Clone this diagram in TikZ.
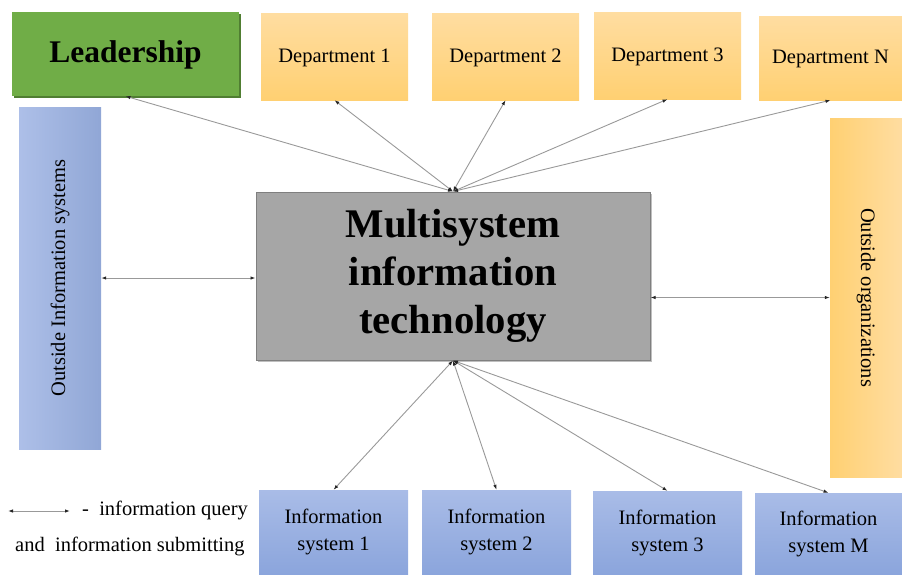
\documentclass[tikz,border=0pt]{standalone}
\usepackage{fontspec}
\setmainfont{Liberation Serif}
\usetikzlibrary{arrows.meta,shadows}
\definecolor{lgreen}{HTML}{70AD47}
\definecolor{dgreen}{HTML}{507E32}
\definecolor{orTop}{HTML}{FFDDA1}
\definecolor{orBot}{HTML}{FFD072}
\definecolor{blTop}{HTML}{A9BCE7}
\definecolor{blBot}{HTML}{8BA5DC}
\definecolor{cgray}{HTML}{A6A6A6}
\definecolor{cedge}{HTML}{7F7F7F}
\definecolor{lineg}{HTML}{999999}
\tikzset{
  txt/.style={font=\fontsize{20.5}{27}\selectfont, align=center, text=black},
  deptbox/.style={txt, inner sep=0pt, top color=orTop, bottom color=orBot, draw=none, text depth=2pt},
  isbox/.style={txt, inner sep=0pt, top color=blTop, bottom color=blBot, draw=none},
  conn/.style={draw=lineg, line width=0.9pt, {Latex[length=5pt,width=3.5pt,color=black!85]}-{Latex[length=5pt,width=3.5pt,color=black!85]}}
}
\begin{document}
\begin{tikzpicture}[x=1pt,y=-1pt]
\useasboundingbox (0,0) rectangle (902,574);
% Leadership
\node[txt, inner sep=0pt, fill=lgreen, minimum width=227pt, minimum height=84pt,
  drop shadow={shadow xshift=1.5pt, shadow yshift=-2pt, fill=dgreen, opacity=1},
  font=\fontsize{31.5}{36}\selectfont\bfseries, text depth=4pt] (lead) at (125.5,54) {Leadership};
% Departments
\node[deptbox, minimum width=147pt, minimum height=87pt] (d1) at (334.5,56.5) {Department 1};
\node[deptbox, minimum width=147pt, minimum height=87pt] (d2) at (505.5,56.5) {Department 2};
\node[deptbox, minimum width=147pt, minimum height=87pt] (d3) at (667.5,55.5) {Department 3};
\node[deptbox, minimum width=143pt, minimum height=84pt] (dN) at (830.5,58) {Department N};
% Outside information systems
\node[txt, inner sep=0pt, left color=blTop!95!white, right color=blBot!95!black!90,
  minimum width=82pt, minimum height=342pt] (oinf) at (60,278) {};
\node[txt, rotate=90] (oinft) at (oinf.center) {Outside Information systems};
% Outside organizations
\node[txt, inner sep=0pt, left color=orBot, right color=orTop,
  minimum width=72pt, minimum height=359pt] (oorg) at (866,297.5) {};
\node[txt, rotate=-90] (oorgt) at (oorg.center) {Outside organizations};
% Center
\node[txt, fill=cgray, draw=cedge, line width=1pt, minimum width=394pt, minimum height=168pt,
  drop shadow={shadow xshift=2pt, shadow yshift=-2pt, fill=black!25, opacity=1},
  font=\fontsize{40.7}{48}\selectfont\bfseries] (center) at (453,276)
  {Multisystem\\information\\technology};
% Information systems
\node[isbox, minimum width=149pt, minimum height=84pt] (is1) at (333.5,532) {Information\\system 1};
\node[isbox, minimum width=149pt, minimum height=84pt] (is2) at (496.5,532) {Information\\system 2};
\node[isbox, minimum width=149pt, minimum height=83pt] (is3) at (667.5,532.5) {Information\\system 3};
\node[isbox, minimum width=147pt, minimum height=81pt] (isM) at (828.5,533.5) {Information\\system M};
% Connectors
\coordinate (ctop) at (center.north);
\coordinate (cbot) at (center.south);
\foreach \t in {lead,d1,d2,d3,dN} { \path[conn] (ctop) -- (\t.south); }
\foreach \t in {is1,is2,is3,isM} { \path[conn] (cbot) -- (\t.north); }
\path[conn] (oinf.east) -- (oinf.east -| center.west);
\path[conn] (oorg.west -| center.east) -- (oorg.west);
% Legend
\coordinate (legA) at (8,511);
\coordinate (legB) at (70,511);
\path[conn] (legA) -- (legB);
\node[txt, anchor=base west, inner sep=0pt] (leg1) at (82,515) {-\ \ information query};
\node[txt, anchor=base west, inner sep=0pt] (leg2) at (15,551) {and\ \ information submitting};
\end{tikzpicture}
\end{document}
